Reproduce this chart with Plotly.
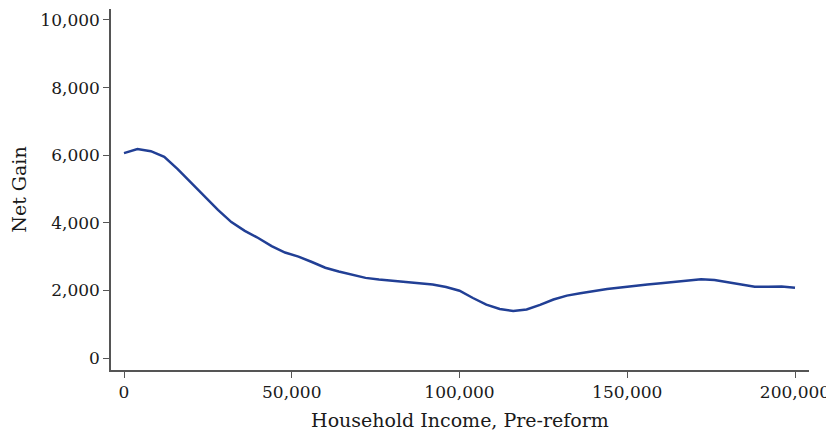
import plotly.graph_objects as go

income = [i * 4000 for i in range(51)]
net_gain = [6060, 6180, 6120, 5950, 5590, 5190, 4780, 4380, 4020, 3760,
            3550, 3310, 3120, 3000, 2840, 2670, 2560, 2455, 2370, 2320,
            2280, 2240, 2210, 2175, 2100, 1990, 1775, 1580, 1450, 1390,
            1435, 1570, 1730, 1845, 1915, 1980, 2040, 2085, 2135, 2175,
            2210, 2250, 2280, 2330, 2310, 2240, 2175, 2110, 2110, 2115,
            2080]

x_ticks = [0, 50000, 100000, 150000, 200000]
y_ticks = [0, 2000, 4000, 6000, 8000, 10000]

font = "DejaVu Serif"
fig = go.Figure(go.Scatter(x=income, y=net_gain, mode="lines",
                           line=dict(color="#213f95", width=2.5), hoverinfo="skip"))
# the page body adds an 8px offset, so the figure is sized to compensate
fig.update_layout(
    width=826, height=427, plot_bgcolor="white", paper_bgcolor="white",
    margin=dict(l=103, r=25, t=1, b=65), showlegend=False,
    font=dict(family=font, size=16, color="#1a1a1a"),
)
fig.update_xaxes(range=[-3875, 204170], tickvals=x_ticks, tickformat=",d",
                 showgrid=False, zeroline=False, showline=True, linecolor="#555555",
                 linewidth=1.5, ticks="outside", ticklen=6, tickcolor="#555555",
                 tickfont=dict(size=17), automargin=False,
                 title=dict(text="Household Income, Pre-reform", standoff=13))
fig.update_yaxes(range=[-355, 10325], tickvals=y_ticks, tickformat=",d",
                 showgrid=False, zeroline=False, showline=True, linecolor="#555555",
                 linewidth=1.5, ticks="outside", ticklen=6, tickcolor="#555555",
                 tickfont=dict(size=17), automargin=False,
                 title=dict(text="Net Gain", standoff=10))
fig.write_html("out.html")
